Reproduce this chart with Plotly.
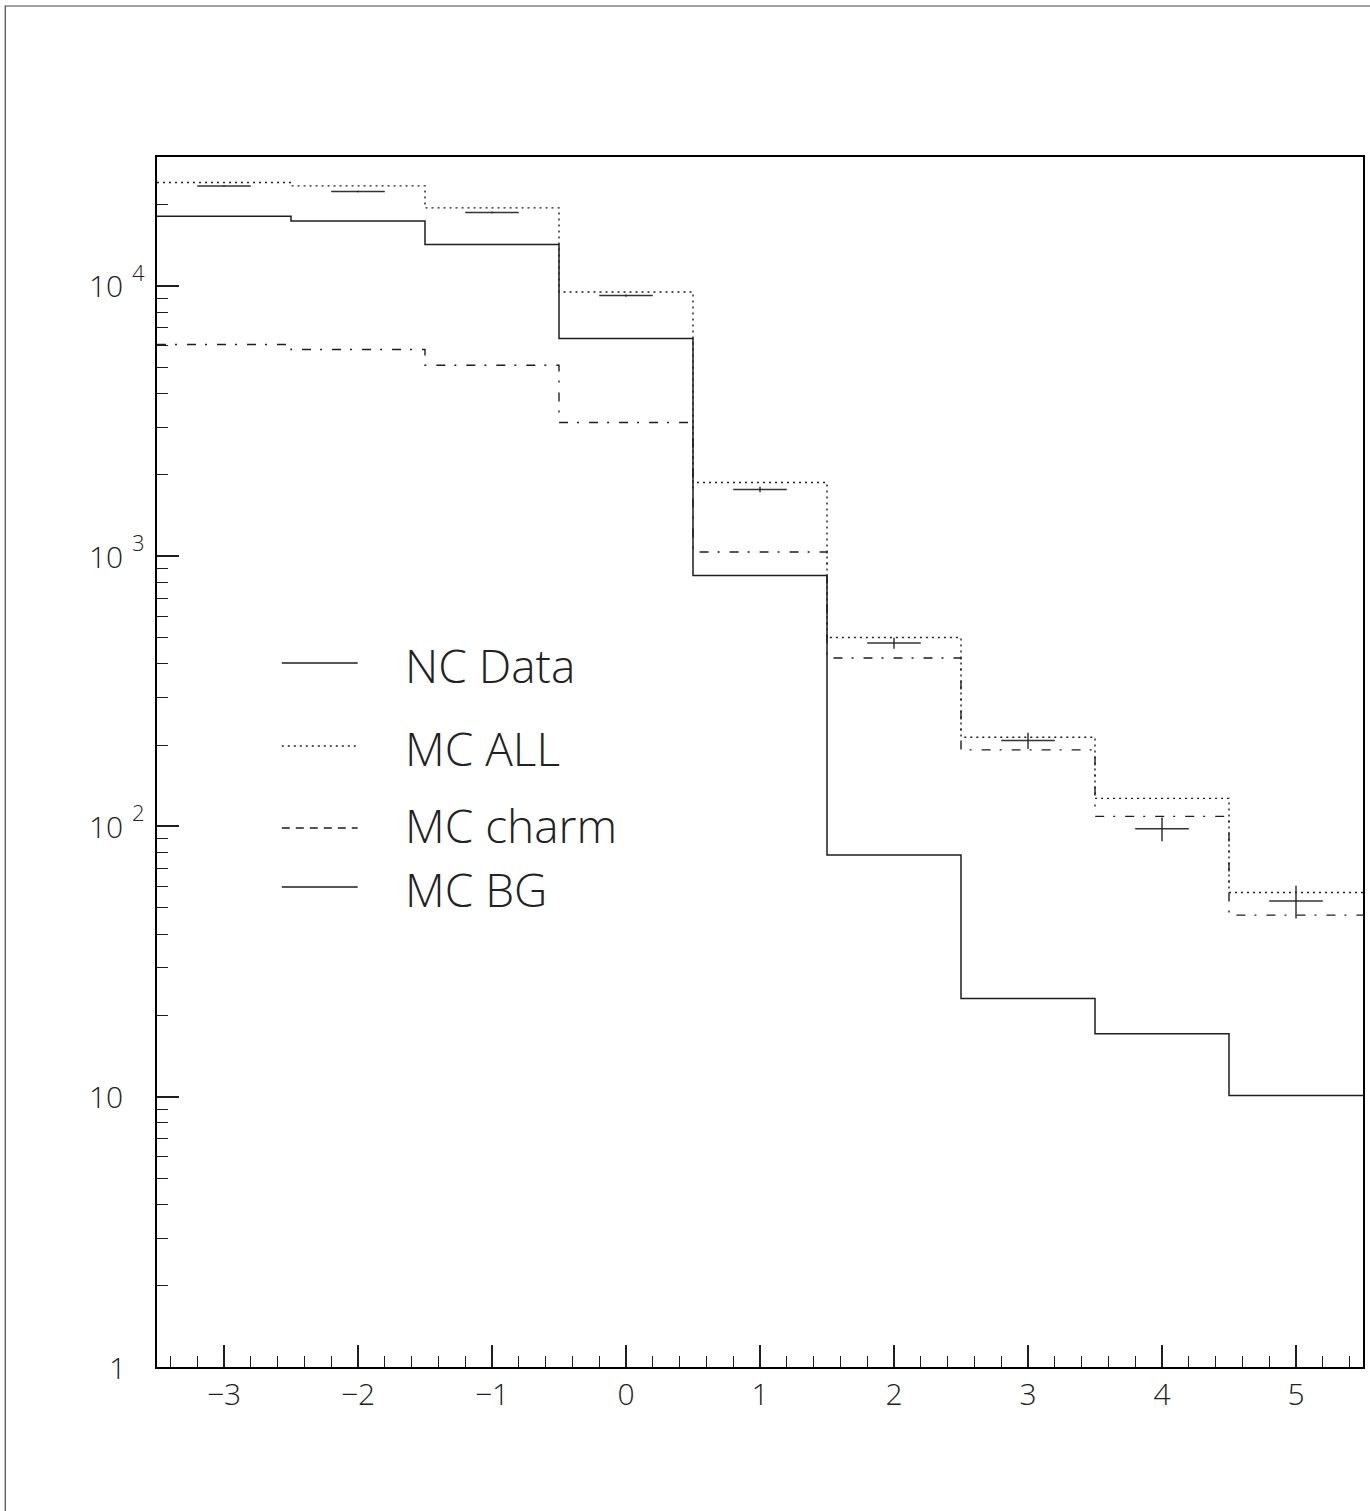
import math
import plotly.graph_objects as go

# Bin layout (unit-width bins centred on the integers)
bin_centers = [-3, -2, -1, 0, 1, 2, 3, 4, 5]
bin_edges = [-3.5, -2.5, -1.5, -0.5, 0.5, 1.5, 2.5, 3.5, 4.5, 5.5]

# Event counts per bin
nc_data = [23450, 22350, 18700, 9210, 1765, 477, 208, 98, 53]
nc_data_err = [153, 150, 137, 96, 42, 22, 14.4, 9.9, 7.3]
mc_all = [24150, 23450, 19440, 9500, 1875, 500, 214, 127, 57]
mc_charm = [6070, 5820, 5090, 3125, 1037, 420, 192, 109, 47]
mc_bg = [18100, 17400, 14240, 6390, 848, 78.5, 23.1, 17.1, 10.1]

# Axis tick labels
x_tick_vals = [-3, -2, -1, 0, 1, 2, 3, 4, 5]
x_tick_text = ["\u22123", "\u22122", "\u22121", "0", "1", "2", "3", "4", "5"]
y_label_exps = [0, 1, 2, 3, 4]

legend_labels = ["NC Data", "MC ALL", "MC charm", "MC BG"]

W, H = 1370, 1511
L, R, T, B = 157, 5, 157, 144
PW, PH = W - L - R, H - T - B
FONT = "Open Sans"
INK = "#1e1e1e"


def px_x(p):
    return (p - L) / PW


def px_y(p):
    return (H - B - p) / PH


def step(values):
    return values + [values[-1]]


fig = go.Figure()

fig.add_trace(go.Scatter(x=bin_edges, y=step(mc_all), mode="lines", line_shape="hv",
                         line=dict(color=INK, width=1.4, dash="2px,4px"), showlegend=False))
fig.add_trace(go.Scatter(x=bin_edges, y=step(mc_charm), mode="lines", line_shape="hv",
                         line=dict(color=INK, width=1.4, dash="9px,9px,2px,10px"), showlegend=False))
fig.add_trace(go.Scatter(x=bin_edges, y=step(mc_bg), mode="lines", line_shape="hv",
                         line=dict(color=INK, width=1.5), showlegend=False))
fig.add_trace(go.Scatter(
    x=bin_centers, y=nc_data, mode="markers", marker=dict(size=1, color=INK),
    error_x=dict(type="constant", value=0.2, width=0, thickness=1.5, color="#333"),
    error_y=dict(type="data", array=nc_data_err, width=0, thickness=1.5, color="#333"),
    showlegend=False))

fig.update_xaxes(
    range=[-3.5, 5.5], tickvals=x_tick_vals, ticktext=x_tick_text,
    ticks="inside", ticklen=22, tickwidth=1.5, tickcolor=INK,
    minor=dict(dtick=0.2, tick0=0, ticks="inside", ticklen=11, tickwidth=1.3, tickcolor=INK),
    showline=True, linecolor="black", linewidth=2, mirror=True,
    showgrid=False, zeroline=False,
    tickfont=dict(family=FONT, size=30, color="#222", weight=300),
)
fig.update_yaxes(
    type="log", range=[0, math.log10(30000)], dtick=1,
    ticks="inside", ticklen=22, tickwidth=1.5, tickcolor=INK,
    minor=dict(dtick="D1", ticks="inside", ticklen=11, tickwidth=1.3, tickcolor=INK),
    showline=True, linecolor="black", linewidth=2, mirror=True,
    showgrid=False, zeroline=False, showticklabels=False,
)

annotations = []
for e in y_label_exps:
    base = "1" if e == 0 else "10"
    annotations.append(dict(xref="paper", yref="y", x=0, y=e, xanchor="right", yanchor="middle",
                            xshift=-29 if e == 0 else -32, text=base, showarrow=False,
                            font=dict(family=FONT, size=30, color="#222", weight=300)))
    if e >= 2:
        annotations.append(dict(xref="paper", yref="y", x=0, y=e, xanchor="left", yanchor="middle",
                                xshift=-27, yshift=14, text=str(e), showarrow=False,
                                font=dict(family=FONT, size=22, color="#222", weight=300)))

# Hand-placed legend: sample line + label
legend_rows = [663, 746, 828, 887]
legend_text_rows = [665, 748, 825, 889]
legend_dash = ["solid", "2px,4px", "8px,6px", "solid"]
shapes = []
for lab, ly, ty, dsh in zip(legend_labels, legend_rows, legend_text_rows, legend_dash):
    shapes.append(dict(type="line", xref="paper", yref="paper",
                       x0=px_x(282), x1=px_x(358), y0=px_y(ly), y1=px_y(ly),
                       line=dict(color=INK, width=1.4, dash=dsh)))
    annotations.append(dict(xref="paper", yref="paper", x=px_x(404), y=px_y(ty),
                            xanchor="left", yanchor="middle", text=lab, showarrow=False,
                            borderpad=0,
                            font=dict(family=FONT, size=46, color="#222", weight=300)))

# Page border
shapes.append(dict(type="rect", xref="paper", yref="paper",
                   x0=px_x(5), x1=px_x(1375), y0=px_y(1520), y1=px_y(6),
                   line=dict(color="#444", width=1.2), layer="below"))

fig.update_layout(
    width=W, height=H, margin=dict(l=L, r=R, t=T, b=B),
    paper_bgcolor="white", plot_bgcolor="white",
    annotations=annotations, shapes=shapes, showlegend=False,
)

fig.write_html("out.html")
